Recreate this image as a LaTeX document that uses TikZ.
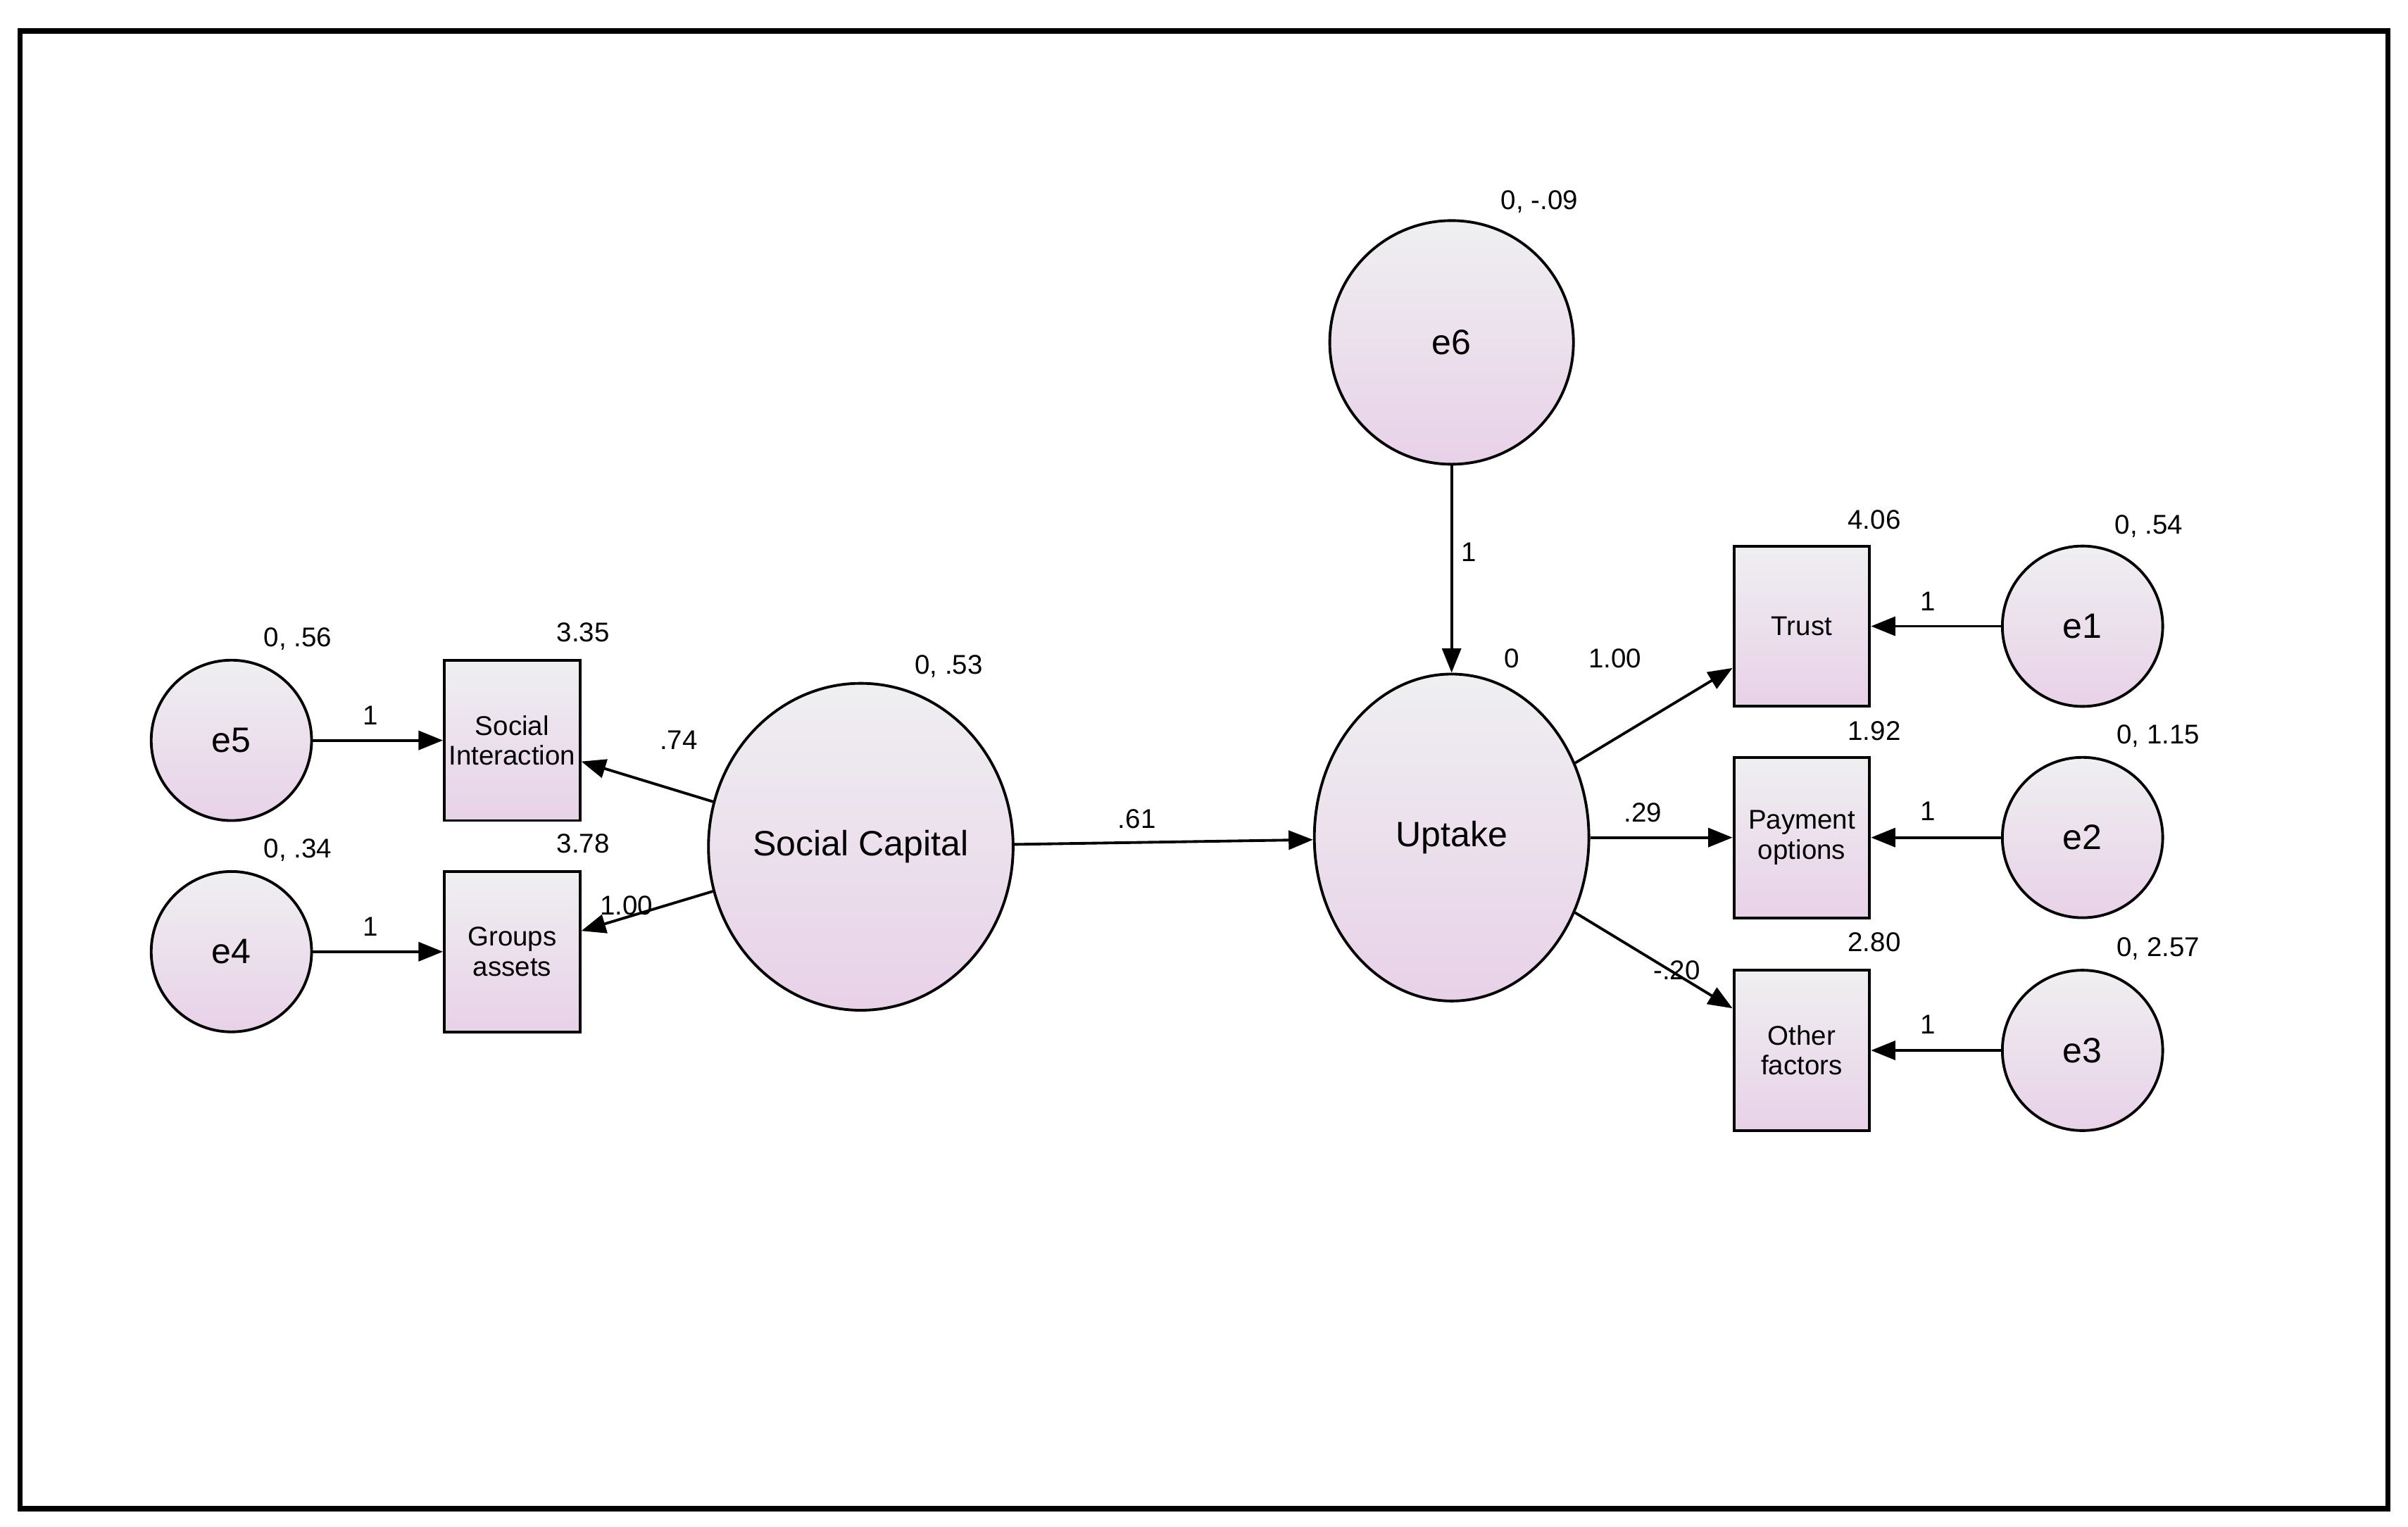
\documentclass[tikz,border=0pt]{standalone}
\usepackage{fontspec}
\setmainfont{Liberation Sans}
\usetikzlibrary{arrows.meta,shapes.geometric}

\begin{document}
\begin{tikzpicture}[
x=0.02cm, y=-0.02cm,
shade/.style={top color=blue!6!gray!12, bottom color=violet!18, draw, line width=1pt},
err/.style={shade, circle, minimum size=2.08cm, inner sep=0pt, font=\fontsize{13}{15}\selectfont},
latent/.style={shade, ellipse, minimum width=3.56cm, minimum height=4.24cm, inner sep=0pt, font=\fontsize{13}{15}\selectfont},
obs/.style={shade, rectangle, minimum width=1.76cm, minimum height=2.08cm, inner sep=0pt, align=center, font=\fontsize{10}{11}\selectfont},
lbl/.style={font=\fontsize{10}{12}\selectfont, inner sep=1pt},
path/.style={-{Triangle[length=9pt,width=7pt]}, line width=1pt}
]
\useasboundingbox (0,0) rectangle (1561,990);
\draw[line width=2pt] (13,20) rectangle (1548,978);

% indicators of social capital
\node[err] (e5) at (150,480) {e5};
\node[err] (e4) at (150,617) {e4};
\node[obs] (social) at (332,480) {Social\\Interaction};
\node[obs] (groups) at (332,617) {Groups\\assets};
\node[latent] (capital) at (558,549) {Social Capital};

% uptake side
\node[err, minimum size=3.16cm] (e6) at (941,222) {e6};
\node[latent] (uptake) at (941,543) {Uptake};
\node[obs] (trust) at (1168,406) {Trust};
\node[obs] (payment) at (1168,543) {Payment\\options};
\node[obs] (other) at (1168,681) {Other\\factors};
\node[err] (e1) at (1350,406) {e1};
\node[err] (e2) at (1350,543) {e2};
\node[err] (e3) at (1350,681) {e3};

\draw[path] (e5) -- (social);
\draw[path] (e4) -- (groups);
\draw[path] (capital) -- (social);
\draw[path] (capital) -- (groups);
\draw[path] (capital) -- (uptake);
\draw[path] (e6) -- (uptake);
\draw[path] (uptake) -- (trust);
\draw[path] (uptake) -- (payment);
\draw[path] (uptake) -- (other);
\draw[path] (e1) -- (trust);
\draw[path] (e2) -- (payment);
\draw[path] (e3) -- (other);

% estimates
\node[lbl] (l1) at (193,414) {0, .56};
\node[lbl] (l2) at (378,410) {3.35};
\node[lbl] (l3) at (193,551) {0, .34};
\node[lbl] (l4) at (378,547) {3.78};
\node[lbl] (l5) at (615,432) {0, .53};
\node[lbl] (l6) at (440,480) {.74};
\node[lbl] (l7) at (406,587) {1.00};
\node[lbl] (l8) at (737,531) {.61};
\node[lbl] (l9) at (998,131) {0, -.09};
\node[lbl] (l10) at (952,358) {1};
\node[lbl] (l11) at (980,427) {0};
\node[lbl] (l12) at (1047,427) {1.00};
\node[lbl] (l13) at (1065,527) {.29};
\node[lbl] (l14) at (1087,629) {-.20};
\node[lbl] (l15) at (1215,337) {4.06};
\node[lbl] (l16) at (1215,474) {1.92};
\node[lbl] (l17) at (1215,611) {2.80};
\node[lbl] (l18) at (1393,341) {0, .54};
\node[lbl] (l19) at (1399,477) {0, 1.15};
\node[lbl] (l20) at (1399,615) {0, 2.57};
\node[lbl] (l21) at (240,464) {1};
\node[lbl] (l22) at (240,601) {1};
\node[lbl] (l23) at (1250,390) {1};
\node[lbl] (l24) at (1250,526) {1};
\node[lbl] (l25) at (1250,664) {1};
\end{tikzpicture}
\end{document}
